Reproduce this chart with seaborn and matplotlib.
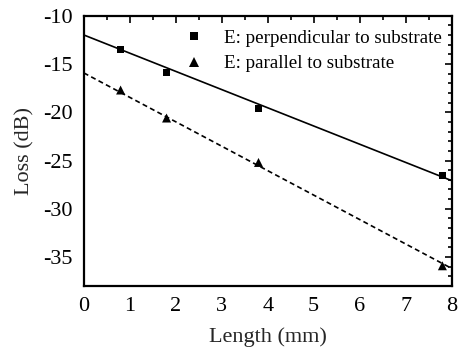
import numpy as np
import pandas as pd
import matplotlib
matplotlib.use("Agg")
import matplotlib.pyplot as plt
from matplotlib.ticker import MultipleLocator
import seaborn as sns

# Measured loss vs. waveguide length for two polarisations
length_mm = [0.8, 1.8, 3.8, 7.8]
loss_perp = [-13.5, -15.9, -19.6, -26.55]
loss_para = [-17.7, -20.6, -25.2, -35.9]

# Linear fits (intercept, slope) drawn across the full axis range
fit_perp = (-12.0, -1.885)
fit_para = (-15.93, -2.53)

label_perp = "E: perpendicular to substrate"
label_para = "E: parallel to substrate"

sns.set_theme(style="white")
plt.rcParams["font.family"] = ["Liberation Serif", "DejaVu Serif"]

fig, ax = plt.subplots(figsize=(4.58, 3.48), dpi=100)
fig.subplots_adjust(left=0.183, right=0.986, top=0.955, bottom=0.178)

xfit = np.array([0.0, 8.0])
fits = pd.DataFrame({
    "x": np.concatenate([xfit, xfit]),
    "y": np.concatenate([fit_perp[0] + fit_perp[1] * xfit,
                         fit_para[0] + fit_para[1] * xfit]),
    "series": ["perp"] * 2 + ["para"] * 2,
})
sns.lineplot(data=fits[fits.series == "perp"], x="x", y="y", ax=ax,
             color="black", lw=1.2, legend=False)
sns.lineplot(data=fits[fits.series == "para"], x="x", y="y", ax=ax,
             color="black", lw=1.2, linestyle=(0, (3, 2)), legend=False)

pts = pd.DataFrame({
    "x": length_mm + length_mm,
    "y": loss_perp + loss_para,
    "series": [label_perp] * 4 + [label_para] * 4,
})
sns.scatterplot(data=pts, x="x", y="y", hue="series", style="series",
                size="series",
                sizes={label_perp: 30, label_para: 42},
                markers={label_perp: "s", label_para: "^"},
                palette={label_perp: "black", label_para: "black"},
                edgecolor="black", linewidth=0, ax=ax, zorder=3)

ax.set_xlim(0, 8)
ax.set_ylim(-38, -10)
ax.xaxis.set_major_locator(MultipleLocator(1))
ax.xaxis.set_minor_locator(MultipleLocator(0.5))
ax.yaxis.set_major_locator(MultipleLocator(5))
ax.yaxis.set_minor_locator(MultipleLocator(1))
ax.tick_params(which="both", direction="in", top=True, right=True,
               colors="black", labelsize=16, width=1.2)
ax.tick_params(which="major", length=5, pad=8)
ax.tick_params(which="minor", length=3)
ax.set_yticks([-10, -15, -20, -25, -30, -35])
ax.set_yticklabels(["-10", "-15", "-20", "-25", "-30", "-35"])

for sp in ax.spines.values():
    sp.set_color("black")
    sp.set_linewidth(1.6)

ax.set_xlabel("Length (mm)", fontsize=16, labelpad=8)
ax.set_ylabel("Loss (dB)", fontsize=16, labelpad=6)

leg = ax.legend(loc="upper right", frameon=False, fontsize=13.7,
                handletextpad=0.6, borderaxespad=0.1, labelspacing=0.45,
                markerscale=1.1, bbox_to_anchor=(1.0, 0.985))
for t in leg.get_texts():
    t.set_color("black")

fig.savefig("out.png", dpi=100)
